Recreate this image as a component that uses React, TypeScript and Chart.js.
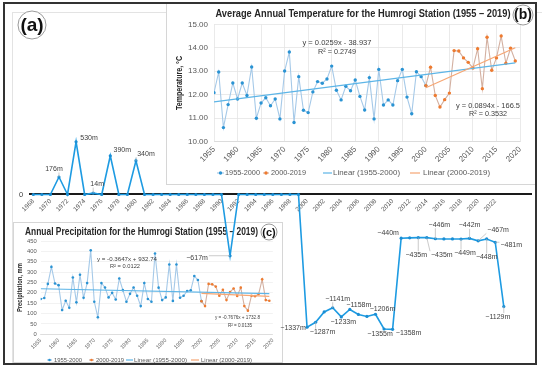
import React, { useEffect, useRef } from "react";
import { Chart, registerables } from "chart.js";

Chart.register(...registerables);

const FONT = '"Liberation Sans", Arial, Helvetica, sans-serif';

// ---------------- (a) water level / depth record ----------------
const YEARS_A = [
  1968, 1969, 1970, 1971, 1972, 1973, 1974, 1975, 1976, 1977,
  1978, 1979, 1980, 1981, 1982, 1983, 1984, 1985, 1986, 1987,
  1988, 1989, 1990, 1991, 1992, 1993, 1994, 1995, 1996, 1997,
  1998, 1999, 2000, 2001, 2002, 2003, 2004, 2005, 2006, 2007,
  2008, 2009, 2010, 2011, 2012, 2013, 2014, 2015, 2016, 2017,
  2018, 2019, 2020, 2021, 2022, 2023,
];
const DEPTH_A = [
  0, 0, 0, 176, 0, 530, 0, 14, 0, 390,
  0, 0, 340, 0, 0, 0, 0, 0, 0, 0,
  0, 0, 0, -617, 0, 0, 0, 0, 0, 0,
  0, 0, -1337, -1287, -1183, -1141, -1233, -1158, -1208, -1228,
  -1206, -1355, -1358, -440, -437, -435, -435, -446, -448, -448,
  -449, -442, -467, -448, -481, -1129,
];
const TICK_YEARS_A = [
  1968, 1970, 1972, 1974, 1976, 1978, 1980, 1982, 1984, 1986, 1988, 1990, 1992, 1994,
  1996, 1998, 2000, 2002, 2004, 2006, 2008, 2010, 2012, 2014, 2016, 2018, 2020, 2022,
];
const LABELED_YEARS_A = [
  1971, 1973, 1975, 1977, 1980, 1991, 2000, 2001, 2003, 2004, 2005, 2008,
  2009, 2010, 2011, 2013, 2014, 2015, 2018, 2019, 2020, 2021, 2022, 2023,
];
// label placement (pixel offsets from the point), parallel to LABELED_YEARS_A
const LABEL_OFFSETS_A = [
  [-5, -8], [13, -4], [4, -9], [12, -6], [10, -7], [-33, 2], [-14, 1], [7, 10],
  [5, -9], [2, 5], [9, -4], [7, -5], [-4, 5], [16, 4], [-13, -5], [-2, 17],
  [15, 17], [4, -14], [4, 14], [0, -13], [20, -11], [0, 18], [16, 3], [-6, 10],
];

// ---------------- (b) temperature & (c) precipitation ----------------
const YEARS_1 = [
  1955, 1956, 1957, 1958, 1959, 1960, 1961, 1962, 1963, 1964,
  1965, 1966, 1967, 1968, 1969, 1970, 1971, 1972, 1973, 1974,
  1975, 1976, 1977, 1978, 1979, 1980, 1981, 1982, 1983, 1984,
  1985, 1986, 1987, 1988, 1989, 1990, 1991, 1992, 1993, 1994,
  1995, 1996, 1997, 1998, 1999, 2000,
];
const YEARS_2 = [
  2000, 2001, 2002, 2003, 2004, 2005, 2006, 2007, 2008, 2009,
  2010, 2011, 2012, 2013, 2014, 2015, 2016, 2017, 2018, 2019,
];
const TEMP_1 = [
  12.09, 12.97, 10.6, 11.58, 12.5, 11.82, 12.5, 11.97, 13.18, 11.0,
  11.65, 11.87, 11.53, 11.82, 10.97, 13.01, 13.82, 10.82, 12.77, 11.34,
  11.24, 12.12, 12.56, 12.49, 12.67, 13.22, 12.19, 11.78, 12.36, 12.17,
  12.63, 11.93, 11.35, 12.73, 10.97, 13.08, 11.56, 11.78, 11.56, 12.6,
  13.08, 11.9, 11.19, 12.98, 12.77, 12.39,
];
const TEMP_2 = [
  12.39, 13.17, 11.97, 11.48, 11.79, 12.07, 13.88, 13.86, 13.57, 13.38,
  13.14, 13.96, 12.26, 14.45, 13.04, 13.57, 14.5, 13.34, 13.98, 13.44,
];
const PRECIP_1 = [
  170, 175, 243, 325, 245, 237, 117, 162, 128, 274,
  154, 287, 176, 247, 405, 157, 82, 247, 226, 178,
  200, 168, 269, 213, 157, 195, 226, 186, 136, 247,
  170, 157, 390, 225, 165, 178, 337, 161, 337, 176,
  186, 209, 212, 281, 262, 160,
];
const PRECIP_2 = [
  160, 136, 243, 241, 230, 186, 215, 165, 204, 221,
  185, 225, 136, 114, 186, 184, 194, 265, 165, 162,
];
const TREND_X_1 = [1955, 2019];
const TREND_X_2 = [2000, 2019];
const TEMP_FIT_1 = [0.0259, -38.937];
const TEMP_FIT_2 = [0.0894, -166.5];
const PRECIP_FIT_1 = [-0.3647, 932.74];
const PRECIP_FIT_2 = [-0.7676, 1732.8];
const TEMP_EQ = ["y = 0.0259x - 38.937", "R² = 0.2749", "y = 0.0894x - 166.5", "R² = 0.3532"];
const PRECIP_EQ = ["y = -0.3647x + 932.74", "R² = 0.0122", "y = -0.7676x + 1732.8", "R² = 0.0135"];
const X_TICKS_BC = [1955, 1960, 1965, 1970, 1975, 1980, 1985, 1990, 1995, 2000, 2005, 2010, 2015, 2020];
const TEMP_Y_TICKS = [10, 10.5, 11, 11.5, 12, 12.5, 13, 13.5, 14, 14.5, 15];
const PRECIP_Y_TICKS = [0, 50, 100, 150, 200, 250, 300, 350, 400, 450];
const SERIES_NAMES = ["1955-2000", "2000-2019", "Linear (1955-2000)", "Linear (2000-2019)"];
const TITLE_B = "Average Annual Temperature for the Humrogi Station (1955 – 2019)";
const TITLE_C = "Annual Precipitation for the Humrogi Station (1955 – 2019)";
const Y_TITLE_B = "Temperature, °C";
const Y_TITLE_C = "Precipitation, mm";

// ---------------- helpers ----------------
function txt(
  ctx: CanvasRenderingContext2D, s: string, x: number, y: number, font: string, color: string,
  align: CanvasTextAlign = "center", width?: number, rot = 0,
) {
  ctx.save();
  ctx.font = font;
  ctx.fillStyle = color;
  ctx.textBaseline = "middle";
  ctx.textAlign = align;
  ctx.translate(x, y);
  if (rot) ctx.rotate(rot);
  if (width) {
    const w = ctx.measureText(s).width;
    if (w > 0) ctx.scale(width / w, 1);
  }
  ctx.fillText(s, 0, 0);
  ctx.restore();
}

function badge(ctx: CanvasRenderingContext2D, s: string, x: number, y: number, r: number, size: number) {
  ctx.save();
  ctx.beginPath();
  ctx.arc(x, y, r, 0, Math.PI * 2);
  ctx.fillStyle = "#ffffff";
  ctx.fill();
  ctx.lineWidth = 1;
  ctx.strokeStyle = "#9a9a9a";
  ctx.stroke();
  ctx.restore();
  txt(ctx, s, x, y + 0.5, `bold ${size}px ${FONT}`, "#111111");
}

const pairs = (xs: number[], ys: number[]) => xs.map((x, i) => ({ x, y: ys[i] }));
const trend = (xs: number[], fit: number[]) => xs.map((x) => ({ x, y: fit[0] * x + fit[1] }));
const clamp = (v: number, a: number, b: number) => Math.max(a, Math.min(b, v));

// ---------------- chart (a) ----------------
function makeA(canvas: HTMLCanvasElement) {
  const labels = {
    id: "aLabels",
    afterDatasetsDraw(chart: any) {
      const ctx: CanvasRenderingContext2D = chart.ctx;
      const meta = chart.getDatasetMeta(0);
      ctx.save();
      ctx.font = `7px ${FONT}`;
      LABELED_YEARS_A.forEach((yr, k) => {
        const i = YEARS_A.indexOf(yr);
        const pt = meta.data[i];
        const v = DEPTH_A[i];
        const text = v < 0 ? `−${-v}m` : `${v}m`;
        const [dx, dy] = LABEL_OFFSETS_A[k];
        const cx = pt.x + dx;
        const cy = pt.y + dy;
        const w = ctx.measureText(text).width;
        const h = 7;
        const bx = clamp(pt.x, cx - w / 2 - 1, cx + w / 2 + 1);
        const by = clamp(pt.y, cy - h / 2, cy + h / 2);
        if (Math.hypot(bx - pt.x, by - pt.y) > 3.5) {
          ctx.beginPath();
          ctx.strokeStyle = "#b5b5b5";
          ctx.lineWidth = 0.7;
          ctx.moveTo(pt.x, pt.y);
          ctx.lineTo(bx, by);
          ctx.stroke();
        }
        ctx.fillStyle = "#404040";
        ctx.textAlign = "center";
        ctx.textBaseline = "middle";
        ctx.fillText(text, cx, cy);
      });
      ctx.restore();
      const y0 = chart.scales.y.getPixelForValue(0);
      txt(ctx, "0", 21, y0, `7.5px ${FONT}`, "#404040");
      badge(ctx, "(a)", 32, 25, 14, 19);
    },
  };
  return new Chart(canvas, {
    type: "line",
    data: {
      datasets: [
        {
          label: "depth",
          data: pairs(YEARS_A, DEPTH_A),
          borderColor: "#1E9BE2",
          borderWidth: 1.6,
          pointRadius: 1.6,
          pointBackgroundColor: "#1A8ED4",
          pointBorderWidth: 0,
          tension: 0,
        },
      ],
    },
    options: {
      animation: false,
      responsive: false,
      maintainAspectRatio: false,
      layout: { padding: { left: 30, right: 19, top: 10, bottom: 10 } },
      plugins: { legend: { display: false }, title: { display: false }, tooltip: { enabled: false } },
      scales: {
        x: {
          type: "linear",
          min: 1967.614,
          max: 2026.18,
          position: { y: 0 } as any,
          afterBuildTicks: (s: any) => {
            s.ticks = TICK_YEARS_A.map((v) => ({ value: v }));
          },
          grid: { display: true, color: "rgba(0,0,0,0)", drawTicks: false },
          border: { display: true, color: "#1a1a1a", width: 2 },
          ticks: {
            autoSkip: false,
            minRotation: 45,
            maxRotation: 45,
            padding: 3,
            color: "#595959",
            font: { family: FONT, size: 6.5 },
            callback: (v: any) => String(v),
          },
        },
        y: { type: "linear", display: false, min: -1667, max: 1858 },
      },
    },
    plugins: [labels],
  } as any);
}

// ---------------- panels (b) and (c) ----------------
type Panel = {
  width: number; height: number;
  pad: { top: number; right: number }; yWidth: number; xHeight: number;
  yMin: number; yMax: number; yTicks: number[]; yDigits: number;
  s1: number[]; s2: number[]; fit1: number[]; fit2: number[]; eq: string[];
  title: string; titlePos: number[]; badgePos: number[];
  yTitle: string; yTitlePos: number[];
  eqPos: number[][]; eqSize: number;
  legendY: number; legend: number[][]; legendSize: number;
  tickSize: number; yTickSize: number; gridX: boolean; gridColor: string;
  markR: number;
};

const PANEL_B: Panel = {
  width: 371, height: 182,
  pad: { top: 21.3, right: 17 }, yWidth: 48, xHeight: 43.3,
  yMin: 10, yMax: 15, yTicks: TEMP_Y_TICKS, yDigits: 2,
  s1: TEMP_1, s2: TEMP_2, fit1: TEMP_FIT_1, fit2: TEMP_FIT_2, eq: TEMP_EQ,
  title: TITLE_B, titlePos: [197, 11, 295, 11], badgePos: [357, 12, 10, 14],
  yTitle: Y_TITLE_B, yTitlePos: [14, 80, 54, 8.5],
  eqPos: [[171, 40, 69], [171, 49, 38], [322, 103, 64], [322, 111, 38]], eqSize: 7.5,
  legendY: 170,
  legend: [[51, 58, 59, 35], [97, 103, 105, 35], [157, 166, 167, 67], [244, 254, 257, 67]],
  legendSize: 8,
  tickSize: 8, yTickSize: 8, gridX: true, gridColor: "#E4E4E4", markR: 1.7,
};

const PANEL_C: Panel = {
  width: 270, height: 141,
  pad: { top: 19, right: 10.1 }, yWidth: 27.7, xHeight: 28.7,
  yMin: 0, yMax: 450, yTicks: PRECIP_Y_TICKS, yDigits: 0,
  s1: PRECIP_1, s2: PRECIP_2, fit1: PRECIP_FIT_1, fit2: PRECIP_FIT_2, eq: PRECIP_EQ,
  title: TITLE_C, titlePos: [128.5, 10, 233, 10], badgePos: [256, 10, 8, 11],
  yTitle: Y_TITLE_C, yTitlePos: [7.7, 65.6, 49, 6.5],
  eqPos: [[114, 37, 60], [112, 44, 30], [224.5, 95, 45], [227, 103, 24]], eqSize: 5.5,
  legendY: 138,
  legend: [[34, 39, 41, 28], [76, 81, 83, 28], [113, 120, 121, 53], [178, 186, 188, 51]],
  legendSize: 6,
  tickSize: 5.5, yTickSize: 5.8, gridX: false, gridColor: "#EFEFEF", markR: 1.3,
};

function makePanel(canvas: HTMLCanvasElement, p: Panel) {
  const decor = {
    id: "decor",
    afterDraw(chart: any) {
      const ctx: CanvasRenderingContext2D = chart.ctx;
      const [tx, ty, tw, ts] = p.titlePos;
      txt(ctx, p.title, tx, ty, `bold ${ts}px ${FONT}`, "#262626", "center", tw);
      const [bx, by, br, bs] = p.badgePos;
      badge(ctx, ["(b)", "(c)"][p === PANEL_B ? 0 : 1], bx, by, br, bs);
      const [yx, yy, yw, ys] = p.yTitlePos;
      txt(ctx, p.yTitle, yx, yy, `bold ${ys}px ${FONT}`, "#262626", "center", yw, -Math.PI / 2);
      p.eqPos.forEach(([x, y, w], k) => txt(ctx, p.eq[k], x, y, `${p.eqSize}px ${FONT}`, "#404040", "center", w));
      const ds = chart.data.datasets;
      p.legend.forEach(([x0, x1, lx, lw], k) => {
        const d = ds[k];
        ctx.save();
        ctx.strokeStyle = d.borderColor;
        ctx.lineWidth = 1.2;
        ctx.beginPath();
        ctx.moveTo(x0, p.legendY);
        ctx.lineTo(x1, p.legendY);
        ctx.stroke();
        if (d.pointRadius > 0) {
          ctx.fillStyle = d.pointBackgroundColor;
          ctx.beginPath();
          ctx.arc((x0 + x1) / 2, p.legendY, d.pointRadius, 0, Math.PI * 2);
          ctx.fill();
        }
        ctx.restore();
        txt(ctx, d.label, lx, p.legendY, `${p.legendSize}px ${FONT}`, "#595959", "left", lw);
      });
    },
  };
  return new Chart(canvas, {
    type: "line",
    data: {
      datasets: [
        {
          label: SERIES_NAMES[0], data: pairs(YEARS_1, p.s1), order: 3,
          borderColor: "#A5C9E8", borderWidth: 1.1, pointRadius: p.markR,
          pointBackgroundColor: "#2A93D3", pointBorderWidth: 0, tension: 0,
        },
        {
          label: SERIES_NAMES[1], data: pairs(YEARS_2, p.s2), order: 2,
          borderColor: "#D3B0A1", borderWidth: 1.1, pointRadius: p.markR,
          pointBackgroundColor: "#EE7B30", pointBorderWidth: 0, tension: 0,
        },
        {
          label: SERIES_NAMES[2], data: trend(TREND_X_1, p.fit1), order: 1,
          borderColor: "#5DB5E7", borderWidth: 1.2, pointRadius: 0,
        },
        {
          label: SERIES_NAMES[3], data: trend(TREND_X_2, p.fit2), order: 0,
          borderColor: "#F6A673", borderWidth: 1.2, pointRadius: 0,
        },
      ],
    },
    options: {
      animation: false,
      responsive: false,
      maintainAspectRatio: false,
      layout: { padding: { left: 0, top: p.pad.top, right: p.pad.right, bottom: 0 } },
      plugins: { legend: { display: false }, title: { display: false }, tooltip: { enabled: false } },
      scales: {
        x: {
          type: "linear", min: 1955, max: 2020,
          afterBuildTicks: (s: any) => {
            s.ticks = X_TICKS_BC.map((v) => ({ value: v }));
          },
          afterFit: (s: any) => {
            s.height = p.xHeight;
          },
          grid: { display: p.gridX, color: p.gridColor, lineWidth: 0.8, drawTicks: false },
          border: { display: true, color: "#D9D9D9", width: 0.8 },
          ticks: {
            autoSkip: false, minRotation: 45, maxRotation: 45, padding: 3,
            color: "#595959", font: { family: FONT, size: p.tickSize },
            callback: (v: any) => String(v),
          },
        },
        y: {
          type: "linear", min: p.yMin, max: p.yMax,
          afterBuildTicks: (s: any) => {
            s.ticks = p.yTicks.map((v) => ({ value: v }));
          },
          afterFit: (s: any) => {
            s.width = p.yWidth;
          },
          grid: { color: p.gridColor, lineWidth: 0.8, drawTicks: false },
          border: { display: false },
          ticks: {
            padding: p === PANEL_B ? 6 : 4,
            color: "#595959", font: { family: FONT, size: p.yTickSize },
            callback: (v: any) => Number(v).toFixed(p.yDigits),
          },
        },
      },
    },
    plugins: [decor],
  } as any);
}

export default function App() {
  const aRef = useRef<HTMLCanvasElement>(null);
  const bRef = useRef<HTMLCanvasElement>(null);
  const cRef = useRef<HTMLCanvasElement>(null);

  useEffect(() => {
    const charts = [
      makePanel(bRef.current!, PANEL_B),
      makePanel(cRef.current!, PANEL_C),
      makeA(aRef.current!),
    ];
    return () => charts.forEach((c) => c.destroy());
  }, []);

  const abs = (l: number, t: number, w: number, h: number): React.CSSProperties => ({
    position: "absolute", left: l, top: t, width: w, height: h,
  });

  return (
    <div style={{ position: "fixed", left: 0, top: 0, width: 550, height: 370, background: "#ffffff", overflow: "hidden" }}>
      <div style={{ ...abs(12, 12, 530, 352), borderLeft: "1px solid #E3E3E3", borderTop: "1px solid #E3E3E3", boxSizing: "border-box" }} />
      <div style={{ ...abs(166, 3, 371, 182), background: "#fff", border: "1px solid #D6D6D6", boxSizing: "border-box" }} />
      <canvas ref={bRef} width={371} height={182} style={{ ...abs(166, 3, 371, 182) }} />
      <div style={{ ...abs(13, 222, 270, 141), background: "#fff", border: "1px solid #D6D6D6", boxSizing: "border-box" }} />
      <canvas ref={cRef} width={270} height={141} style={{ ...abs(13, 222, 270, 141) }} />
      <canvas ref={aRef} width={550} height={370} style={{ ...abs(0, 0, 550, 370), pointerEvents: "none" }} />
      <div style={{ ...abs(3, 2, 534, 363), border: "2px solid #333333", boxSizing: "border-box", pointerEvents: "none" }} />
    </div>
  );
}
